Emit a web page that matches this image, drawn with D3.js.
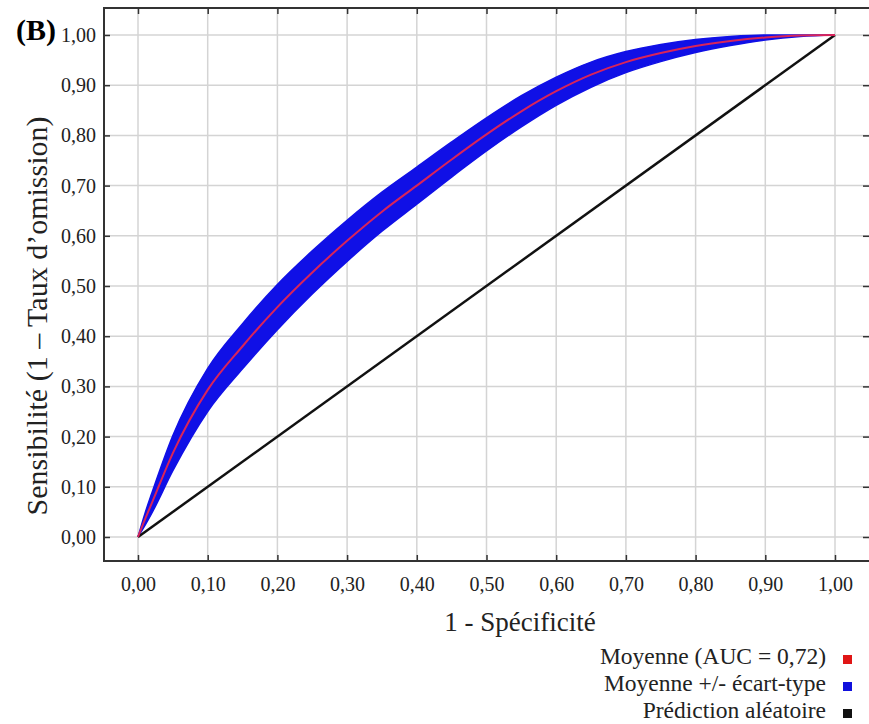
<!DOCTYPE html>
<html>
<head>
<meta charset="utf-8">
<script src="https://cdn.jsdelivr.net/npm/d3@7"></script>
<style>
  body { margin: 0; background: #fff; }
  svg { display: block; font-family: "Liberation Serif", "Times New Roman", serif; }
</style>
</head>
<body>
<div id="chart"></div>
<script>
// ROC data
const fpr = [0, 0.01, 0.02, 0.05, 0.10, 0.15, 0.20, 0.25, 0.30, 0.35, 0.40, 0.45, 0.50, 0.55, 0.60, 0.65, 0.70, 0.75, 0.80, 0.85, 0.90, 0.95, 1.00];
const meanTpr = [0, 0.035, 0.068, 0.167, 0.293, 0.38, 0.458, 0.527, 0.59, 0.648, 0.70, 0.752, 0.802, 0.848, 0.888, 0.921, 0.946, 0.964, 0.978, 0.988, 0.995, 0.999, 1.0];
const sdTpr = [0, 0.012, 0.02, 0.035, 0.043, 0.045, 0.045, 0.043, 0.041, 0.039, 0.037, 0.035, 0.033, 0.031, 0.028, 0.025, 0.021, 0.017, 0.013, 0.009, 0.005, 0.002, 0];
const randomX = [0, 1];
const randomY = [0, 1];
const tickValues = [0, 0.1, 0.2, 0.3, 0.4, 0.5, 0.6, 0.7, 0.8, 0.9, 1.0];
const legendLabels = ["Moyenne (AUC = 0,72)", "Moyenne +/- écart-type", "Prédiction aléatoire"];
const legendColors = ["#e01515", "#1010dd", "#111111"];

const W = 869, H = 724;
const frame = {left: 104, top: 8, right: 871, bottom: 561};

const svg = d3.select("#chart").append("svg")
  .attr("width", W)
  .attr("height", H);

const x = d3.scaleLinear().domain([0, 1]).range([138, 835]);
const y = d3.scaleLinear().domain([0, 1]).range([537, 35]);
const fmt = d => d.toFixed(2).replace(".", ",");

// grid
svg.append("g").selectAll("line.vx")
  .data(tickValues).enter().append("line")
  .attr("x1", d => x(d)).attr("x2", d => x(d))
  .attr("y1", frame.top).attr("y2", frame.bottom)
  .style("stroke", "#d4d4d4").style("stroke-width", 1.5);
svg.append("g").selectAll("line.hy")
  .data(tickValues).enter().append("line")
  .attr("x1", frame.left).attr("x2", frame.right)
  .attr("y1", d => y(d)).attr("y2", d => y(d))
  .style("stroke", "#d4d4d4").style("stroke-width", 1.5);

// axes with inward ticks
const leftAxis = svg.append("g")
  .attr("transform", `translate(${frame.left},0)`)
  .call(d3.axisLeft(y).tickValues(tickValues).tickSize(-6).tickPadding(8).tickFormat(fmt));
const bottomAxis = svg.append("g")
  .attr("transform", `translate(0,${frame.bottom})`)
  .call(d3.axisBottom(x).tickValues(tickValues).tickSize(-6).tickPadding(16).tickFormat(fmt));
const topAxis = svg.append("g")
  .attr("transform", `translate(0,${frame.top})`)
  .call(d3.axisTop(x).tickValues(tickValues).tickSize(-6).tickFormat(""));
const rightAxis = svg.append("g")
  .attr("transform", `translate(${W},0)`)
  .call(d3.axisRight(y).tickValues(tickValues).tickSize(-6).tickFormat(""));

[leftAxis, bottomAxis, topAxis, rightAxis].forEach(a => {
  a.select(".domain").remove();
  a.selectAll(".tick line").style("stroke", "#333").style("stroke-width", 1.5);
  a.selectAll(".tick text").style("font-family", "Liberation Serif, serif")
    .style("font-size", "20px").style("fill", "#222");
});

// frame
svg.append("rect")
  .attr("x", frame.left).attr("y", frame.top)
  .attr("width", frame.right - frame.left).attr("height", frame.bottom - frame.top)
  .style("fill", "none").style("stroke", "#333").style("stroke-width", 2);

const rocData = fpr.map((f, i) => ({x: f, m: meanTpr[i], sd: sdTpr[i]}));

// +/- sd band
const band = d3.area()
  .x(d => x(d.x))
  .y0(d => y(Math.max(0, d.m - d.sd)))
  .y1(d => y(Math.min(1, d.m + d.sd)))
  .curve(d3.curveMonotoneX);
svg.append("path")
  .datum(rocData)
  .attr("d", band)
  .style("fill", "#1010e6")
  .style("stroke", "#1010e6")
  .style("stroke-width", 1.5);

// random prediction
const randomLine = d3.line().x(d => x(d[0])).y(d => y(d[1]));
svg.append("path")
  .datum(randomX.map((v, i) => [v, randomY[i]]))
  .attr("d", randomLine)
  .style("fill", "none")
  .style("stroke", "#111")
  .style("stroke-width", 2.5);

// mean curve
const meanLine = d3.line().x(d => x(d.x)).y(d => y(d.m)).curve(d3.curveMonotoneX);
svg.append("path")
  .datum(rocData)
  .attr("d", meanLine)
  .style("fill", "none")
  .style("stroke", "#d8245a")
  .style("stroke-width", 2);

// labels
svg.append("text")
  .attr("x", 16).attr("y", 40)
  .style("font-size", "30px").style("font-weight", "bold")
  .text("(B)");

svg.append("text")
  .attr("transform", "translate(47,316) rotate(-90)")
  .style("text-anchor", "middle")
  .style("font-size", "30px")
  .style("fill", "#222")
  .text("Sensibilité (1 – Taux d’omission)");

svg.append("text")
  .attr("x", 520).attr("y", 631)
  .style("text-anchor", "middle")
  .style("font-size", "27px")
  .style("fill", "#222")
  .text("1 - Spécificité");

// legend
const legend = svg.append("g").selectAll("g")
  .data(legendLabels).enter().append("g")
  .attr("transform", (d, i) => `translate(0,${664 + i * 27})`);
legend.append("text")
  .attr("x", 826)
  .style("text-anchor", "end")
  .style("font-size", "23.5px")
  .style("fill", "#222")
  .text(d => d);
legend.append("rect")
  .attr("x", 843).attr("y", -9)
  .attr("width", 9).attr("height", 9)
  .style("fill", (d, i) => legendColors[i]);
</script>
</body>
</html>
